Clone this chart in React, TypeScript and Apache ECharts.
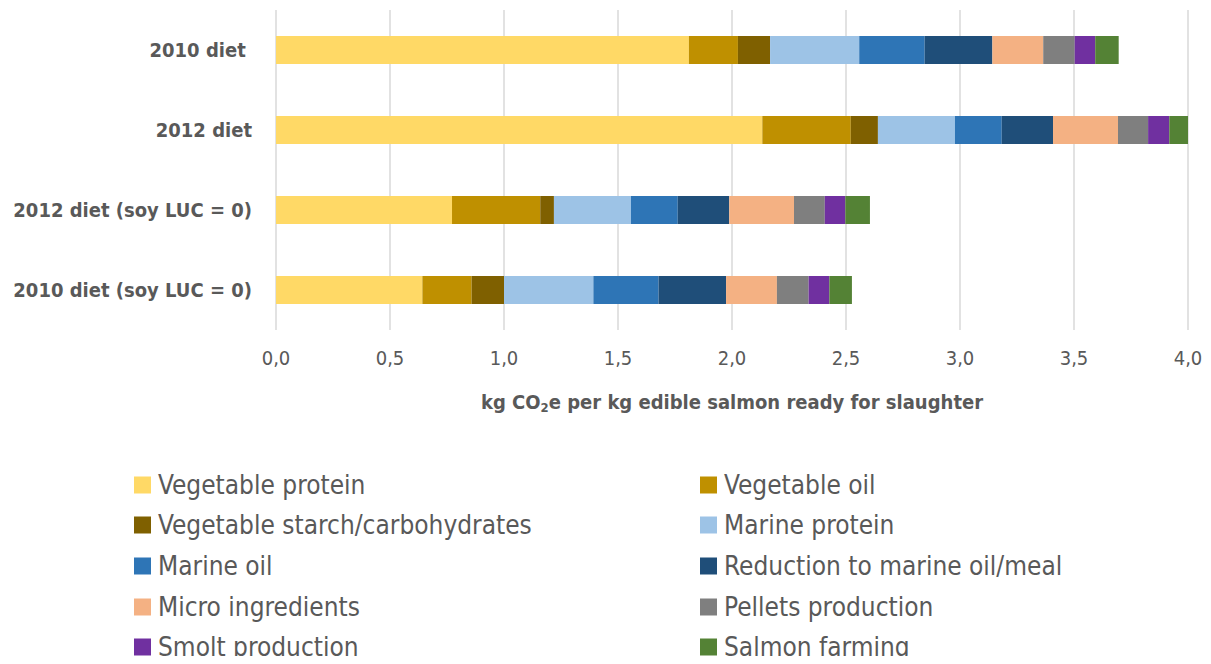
import React, { useEffect, useRef } from "react";
import * as echarts from "echarts";

const categories = [
  "2010 diet ",
  "2012 diet",
  "2012 diet (soy LUC = 0)",
  "2010 diet (soy LUC = 0)",
];

const seriesNames = [
  "Vegetable protein",
  "Vegetable oil",
  "Vegetable starch/carbohydrates",
  "Marine protein",
  "Marine oil",
  "Reduction to marine oil/meal",
  "Micro ingredients",
  "Pellets production",
  "Smolt production",
  "Salmon farming",
];

const vegetableProtein = [1.811, 2.133, 0.772, 0.642];
const vegetableOil = [0.215, 0.388, 0.387, 0.216];
const vegetableStarch = [0.141, 0.119, 0.06, 0.142];
const marineProtein = [0.391, 0.338, 0.338, 0.392];
const marineOil = [0.287, 0.205, 0.205, 0.286];
const reduction = [0.297, 0.225, 0.226, 0.296];
const microIngredients = [0.223, 0.285, 0.284, 0.223];
const pelletsProduction = [0.138, 0.132, 0.135, 0.139];
const smoltProduction = [0.09, 0.093, 0.09, 0.091];
const salmonFarming = [0.103, 0.088, 0.108, 0.099];

const seriesValues = [
  vegetableProtein,
  vegetableOil,
  vegetableStarch,
  marineProtein,
  marineOil,
  reduction,
  microIngredients,
  pelletsProduction,
  smoltProduction,
  salmonFarming,
];

const colors = [
  "#FFD966",
  "#BF9000",
  "#7F6000",
  "#9DC3E6",
  "#2E75B6",
  "#1F4E79",
  "#F4B183",
  "#7F7F7F",
  "#7030A0",
  "#548235",
];

const FONT = "'Liberation Sans Narrow', 'DejaVu Sans Condensed', 'Arial Narrow', sans-serif";
const TEXT = "#595959";

const legendRowCenters = [477, 517, 558, 599, 639];
const legendColLefts = [126, 692];

export default function App() {
  const ref = useRef<HTMLDivElement>(null);
  useEffect(() => {
    if (!ref.current) return;
    const chart = echarts.init(ref.current, undefined, { renderer: "svg" });
    const legends = seriesNames.map((name, i) => ({
      orient: "horizontal" as const,
      left: legendColLefts[i % 2],
      top: legendRowCenters[Math.floor(i / 2)] - 13,
      itemWidth: 17,
      itemHeight: 17,
      itemGap: 0,
      padding: 0,
      icon: "rect",
      data: [name],
      textStyle: { fontFamily: FONT, fontSize: 26, lineHeight: 26, color: TEXT, padding: [0, 0, 0, 2] },
    }));
    chart.setOption({
      animation: false,
      color: colors,
      textStyle: { fontFamily: FONT },
      grid: { left: 268, right: 23, top: 2, height: 320 },
      legend: legends,
      xAxis: {
        type: "value",
        min: 0,
        max: 4,
        interval: 0.5,
        axisLine: { show: false },
        axisTick: { show: false },
        splitLine: { show: true, lineStyle: { color: "#D9D9D9", width: 1.5 } },
        axisLabel: {
          margin: 18,
          fontFamily: FONT,
          fontSize: 20,
          color: TEXT,
          formatter: (v: number) => v.toFixed(1).replace(".", ","),
        },
        name: "{a|kg CO}{s|2}{a|e per kg edible salmon ready for slaughter}",
        nameLocation: "middle",
        nameGap: 59,
        nameTextStyle: {
          rich: {
            a: { fontFamily: FONT, fontSize: 20, fontWeight: "bold", color: TEXT, lineHeight: 22 },
            s: { fontFamily: FONT, fontSize: 13, fontWeight: "bold", color: TEXT, padding: [12, 0, 0, 0] },
          },
        },
      },
      yAxis: {
        type: "category",
        data: categories,
        inverse: true,
        axisLine: { show: false },
        axisTick: { show: false },
        axisLabel: {
          margin: 24,
          fontFamily: FONT,
          fontSize: 20,
          fontWeight: "bold",
          color: TEXT,
        },
      },
      series: seriesNames.map((name, i) => ({
        name,
        type: "bar",
        stack: "total",
        barWidth: 28,
        data: seriesValues[i],
        itemStyle: { color: colors[i] },
      })),
    });
    return () => chart.dispose();
  }, []);
  return <div ref={ref} style={{ width: 1203, height: 656, marginBottom: -8 }} />;
}
